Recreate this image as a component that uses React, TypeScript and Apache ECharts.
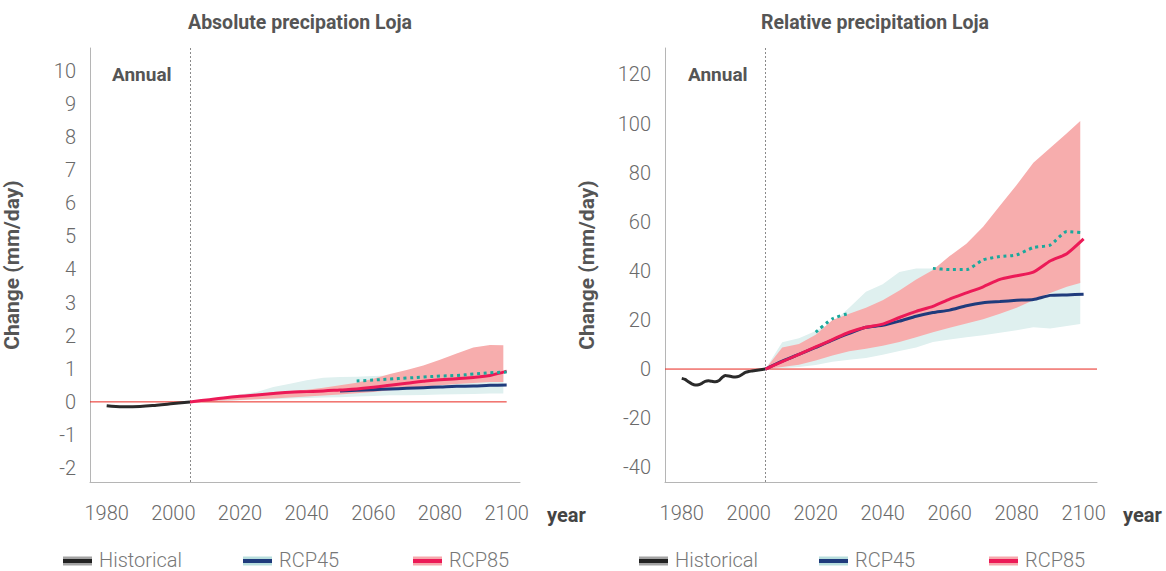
import React, { useEffect, useRef } from "react";
import * as echarts from "echarts";

// ---------- shared axis ticks ----------
const xTicks = [1980, 2000, 2020, 2040, 2060, 2080, 2100];
const yTicksAbs = [-2, -1, 0, 1, 2, 3, 4, 5, 6, 7, 8, 9, 10];
const yTicksRel = [-40, -20, 0, 20, 40, 60, 80, 100, 120];
const baselineYearsAbs = [1975, 2100];
const baselineYearsRel = [1975, 2104];
const baselineValues = [0, 0];
const referenceYear = 2005;

// ---------- absolute precipitation ----------
const histYearsAbs = [1980, 1985, 1990, 1995, 2000, 2005];
const histAbs = [-0.12, -0.15, -0.14, -0.1, -0.05, 0];

const projYears = [2005, 2010, 2015, 2020, 2025, 2030, 2035, 2040, 2045, 2050, 2055, 2060, 2065, 2070, 2075, 2080, 2085, 2090, 2095, 2100];
const bandYears = [2005, 2010, 2015, 2020, 2025, 2030, 2035, 2040, 2045, 2050, 2055, 2060, 2065, 2070, 2075, 2080, 2085, 2090, 2095, 2099];

const rcp85Abs = [0, 0.06, 0.12, 0.17, 0.21, 0.25, 0.29, 0.31, 0.33, 0.36, 0.39, 0.44, 0.5, 0.56, 0.62, 0.67, 0.7, 0.74, 0.8, 0.93];
const rcp45Abs = [null, null, null, null, null, null, null, null, null, 0.33, 0.35, 0.37, 0.39, 0.41, 0.43, 0.45, 0.47, 0.48, 0.5, 0.51];
const ensembleAbs = [null, null, null, null, null, null, null, null, null, null, 0.63, 0.66, 0.69, 0.72, 0.75, 0.78, 0.8, 0.84, 0.88, 0.9];

const rcp45LowAbs = [0, 0, 0.02, 0.05, 0.07, 0.08, 0.1, 0.12, 0.13, 0.14, 0.16, 0.18, 0.2, 0.2, 0.21, 0.22, 0.23, 0.24, 0.25, 0.25];
const rcp45HighAbs = [0, 0.08, 0.15, 0.22, 0.3, 0.45, 0.55, 0.65, 0.73, 0.75, 0.76, 0.78, 0.8, 0.82, 0.85, 0.88, 0.9, 0.9, 0.9, 0.9];
const rcp85LowAbs = [0, 0.02, 0.04, 0.06, 0.08, 0.1, 0.13, 0.16, 0.19, 0.22, 0.26, 0.3, 0.35, 0.4, 0.45, 0.5, 0.54, 0.57, 0.6, 0.6];
const rcp85HighAbs = [0, 0.05, 0.1, 0.15, 0.21, 0.3, 0.33, 0.37, 0.43, 0.5, 0.58, 0.7, 0.84, 0.96, 1.1, 1.27, 1.46, 1.64, 1.72, 1.71];

// ---------- relative precipitation ----------
const histYearsRel = [1980, 1981, 1982, 1983, 1984, 1985, 1986, 1987, 1988, 1989, 1990, 1991, 1992, 1993, 1994, 1995, 1996, 1997, 1998, 1999, 2000, 2001, 2002, 2003, 2004, 2005];
const histRel = [-3.8, -4.2, -5.2, -6.0, -6.5, -6.4, -5.8, -5.0, -4.8, -5.0, -5.2, -4.8, -3.5, -2.6, -2.8, -3.1, -3.2, -3.0, -2.2, -1.4, -1.0, -0.8, -0.6, -0.4, -0.2, 0];

const rcp85Rel = [0, 3, 6, 9, 12, 15, 17, 18.3, 21, 23.5, 25.5, 28.5, 31, 33.5, 36.5, 38, 39.5, 44, 47, 53];
const rcp45Rel = [0, 3.2, 6, 8.8, 11.8, 14.5, 17, 17.8, 19.5, 21.5, 23, 24, 25.8, 27, 27.5, 28, 28.3, 30, 30.2, 30.5];
const ensembleRel = [null, null, null, 15, 20.5, 22.7, null, null, null, null, 41, 40.5, 40.5, 44.5, 45.8, 46.5, 49.5, 50.5, 56, 55.5];

const rcp45LowRel = [0, 0.3, 0.8, 1.6, 3, 3.8, 4.5, 5.8, 7.3, 8.8, 11, 12, 13, 13.8, 14.8, 15.8, 17, 16.5, 17.5, 18.3];
const rcp45HighRel = [0, 10.9, 12.5, 15.5, 19, 25, 31.5, 34.5, 39.5, 41, 41, 41.5, 41.5, 41, 40, 39, 38, 37, 36.5, 36];
const rcp85LowRel = [0, 0.8, 1.8, 3.5, 5.5, 7.2, 8.3, 9.5, 11, 13, 15, 16.8, 18.5, 20.3, 22.5, 25, 28, 31, 33.5, 35];
const rcp85HighRel = [0, 8.8, 10.2, 14, 20, 22.5, 25, 28, 32, 36.5, 40.3, 46, 51, 58, 66.5, 75, 84, 90, 96, 101];

// ---------- styling ----------
const C = {
  hist: "#2a2a2a",
  rcp45: "#1f3b7c",
  rcp85: "#ec1a57",
  ens: "#1aa89c",
  band45: "#dff0ef",
  band85: "#f7adad",
  zero: "#e8261e",
  axis: "#b5b5b5",
  tick: "#6a6a6a",
  title: "#555555",
};
const FONT = "Roboto, 'Noto Sans', sans-serif";

const pairs = (xs: number[], ys: (number | null)[]) =>
  xs.map((x, i) => (ys[i] == null ? [x, "-"] : [x, ys[i]]));

function bandSeries(gi: number, lo: number[], hi: number[], color: string, z: number) {
  return {
    type: "custom",
    xAxisIndex: gi,
    yAxisIndex: gi,
    silent: true,
    z,
    data: bandYears.map((y, i) => [y, lo[i], hi[i]]),
    encode: { x: 0, y: [1, 2] },
    renderItem: (params: any, api: any) => {
      if (params.dataIndex !== 0) return null;
      const up = bandYears.map((y, i) => api.coord([y, hi[i]]));
      const down = bandYears.map((y, i) => api.coord([y, lo[i]])).reverse();
      return {
        type: "polygon",
        shape: { points: up.concat(down) },
        style: { fill: color, stroke: "none" },
        silent: true,
      };
    },
  };
}

function chartSeries(
  gi: number,
  baseYears: number[],
  hist: [number[], number[]],
  r45: (number | null)[],
  r85: number[],
  ens: (number | null)[],
  b45: [number[], number[]],
  b85: [number[], number[]],
  smooth: number | boolean
) {
  const base = { xAxisIndex: gi, yAxisIndex: gi, symbol: "none", silent: true };
  return [
    bandSeries(gi, b45[0], b45[1], C.band45, 1),
    bandSeries(gi, b85[0], b85[1], C.band85, 2),
    {
      ...base, type: "line", name: "baseline" + gi, data: pairs(baseYears, baselineValues),
      lineStyle: { color: C.zero, width: 1 }, z: 3,
      markLine: {
        silent: true, symbol: "none", label: { show: false }, animation: false,
        lineStyle: { color: "#8a8a8a", width: 1, type: [2, 2] },
        data: [{ xAxis: referenceYear }],
      },
    },
    { ...base, type: "line", name: "Historical", data: pairs(hist[0], hist[1]), smooth, lineStyle: { color: C.hist, width: 3 }, z: 4 },
    { ...base, type: "line", name: "RCP45", data: pairs(projYears, r45), smooth, lineStyle: { color: C.rcp45, width: 3 }, z: 5 },
    { ...base, type: "line", name: "RCP85", data: pairs(projYears, r85), smooth, lineStyle: { color: C.rcp85, width: 3 }, z: 6 },
    { ...base, type: "line", name: "Ensemble", data: pairs(projYears, ens), smooth, lineStyle: { color: C.ens, width: 3, type: [3, 3.7] }, z: 7 },
  ];
}

function axisPair(gi: number, ymin: number, ymax: number, yTicks: number[]) {
  const x = {
    type: "value", gridIndex: gi, min: 1975, max: 2104,
    axisLine: { show: true, onZero: false, lineStyle: { color: C.axis, width: 1 } },
    axisTick: { show: false }, splitLine: { show: false },
    axisLabel: {
      customValues: xTicks, color: C.tick, fontSize: 20, fontFamily: FONT, fontWeight: 300, margin: 21,
      formatter: (v: number) => String(v),
    },
  };
  const y = {
    type: "value", gridIndex: gi, min: ymin, max: ymax,
    axisLine: { show: true, onZero: false, lineStyle: { color: C.axis, width: 1 } },
    axisTick: { show: false }, splitLine: { show: false },
    axisLabel: {
      customValues: yTicks, color: C.tick, fontSize: 20, fontFamily: FONT, fontWeight: 300, margin: 14,
      formatter: (v: number) => String(v),
    },
    name: "Change (mm/day)", nameLocation: "middle", nameGap: 68, nameRotate: 90,
    nameTextStyle: { fontSize: 21, fontWeight: "bold", color: C.title, fontFamily: FONT },
  };
  return { x, y };
}

function legendGraphics(ox: number) {
  const items = [
    { name: "Historical", band: "#a3a3a3", line: "#222222", x: 63 },
    { name: "RCP45", band: "#b8dedd", line: "#1f3b7c", x: 243 },
    { name: "RCP85", band: "#f6a8ad", line: "#ec1a57", x: 413 },
  ];
  const out: any[] = [];
  items.forEach((it) => {
    out.push({ type: "rect", silent: true, shape: { x: ox + it.x, y: 556.5, width: 29, height: 9 }, style: { fill: it.band } });
    out.push({ type: "rect", silent: true, shape: { x: ox + it.x, y: 559, width: 29, height: 4 }, style: { fill: it.line } });
    out.push({
      type: "text", silent: true, x: ox + it.x + 36, y: 560,
      style: {
        text: it.name, fill: "#777777", fontSize: 20, lineHeight: 20, fontFamily: FONT, fontWeight: 300,
        textVerticalAlign: "middle", textAlign: "left",
      },
    });
  });
  return out;
}

function textG(text: string, x: number, y: number, size: number, align: string, color = C.title) {
  return {
    type: "text", silent: true, x, y,
    style: { text, fill: color, fontSize: size, fontWeight: "bold", fontFamily: FONT, textAlign: align, textVerticalAlign: "middle" },
  };
}

export default function App() {
  const ref = useRef<HTMLDivElement>(null);
  useEffect(() => {
    if (!ref.current) return;
    const chart = echarts.init(ref.current, undefined, { renderer: "svg" });
    const a0 = axisPair(0, -2.42, 10.69, yTicksAbs);
    const a1 = axisPair(1, -46, 130.75, yTicksRel);
    const option: any = {
      animation: false,
      backgroundColor: "#ffffff",
      grid: [
        { left: 89, top: 48, width: 431, height: 434, containLabel: false },
        { left: 665, top: 48, width: 432, height: 434, containLabel: false },
      ],
      xAxis: [a0.x, a1.x],
      yAxis: [a0.y, a1.y],
      series: [
        ...chartSeries(0, baselineYearsAbs, [histYearsAbs, histAbs], rcp45Abs, rcp85Abs, ensembleAbs, [rcp45LowAbs, rcp45HighAbs], [rcp85LowAbs, rcp85HighAbs], 0.4),
        ...chartSeries(1, baselineYearsRel, [histYearsRel, histRel], rcp45Rel, rcp85Rel, ensembleRel, [rcp45LowRel, rcp45HighRel], [rcp85LowRel, rcp85HighRel], 0.2),
      ],
      graphic: [
        textG("Absolute precipation Loja", 300, 22, 19.5, "center"),
        textG("Relative precipitation Loja", 875, 22, 19.5, "center"),
        textG("Annual", 112, 74, 19, "left"),
        textG("Annual", 688, 74, 19, "left"),
        textG("year", 547, 515, 20, "left", "#444444"),
        textG("year", 1123, 515, 20, "left", "#444444"),
        ...legendGraphics(0),
        ...legendGraphics(576),
      ],
    };
    chart.setOption(option);
    return () => chart.dispose();
  }, []);
  return (
    <div
      ref={ref}
      style={{ position: "absolute", left: 0, top: 0, width: 1166, height: 571, background: "#fff" }}
    />
  );
}
